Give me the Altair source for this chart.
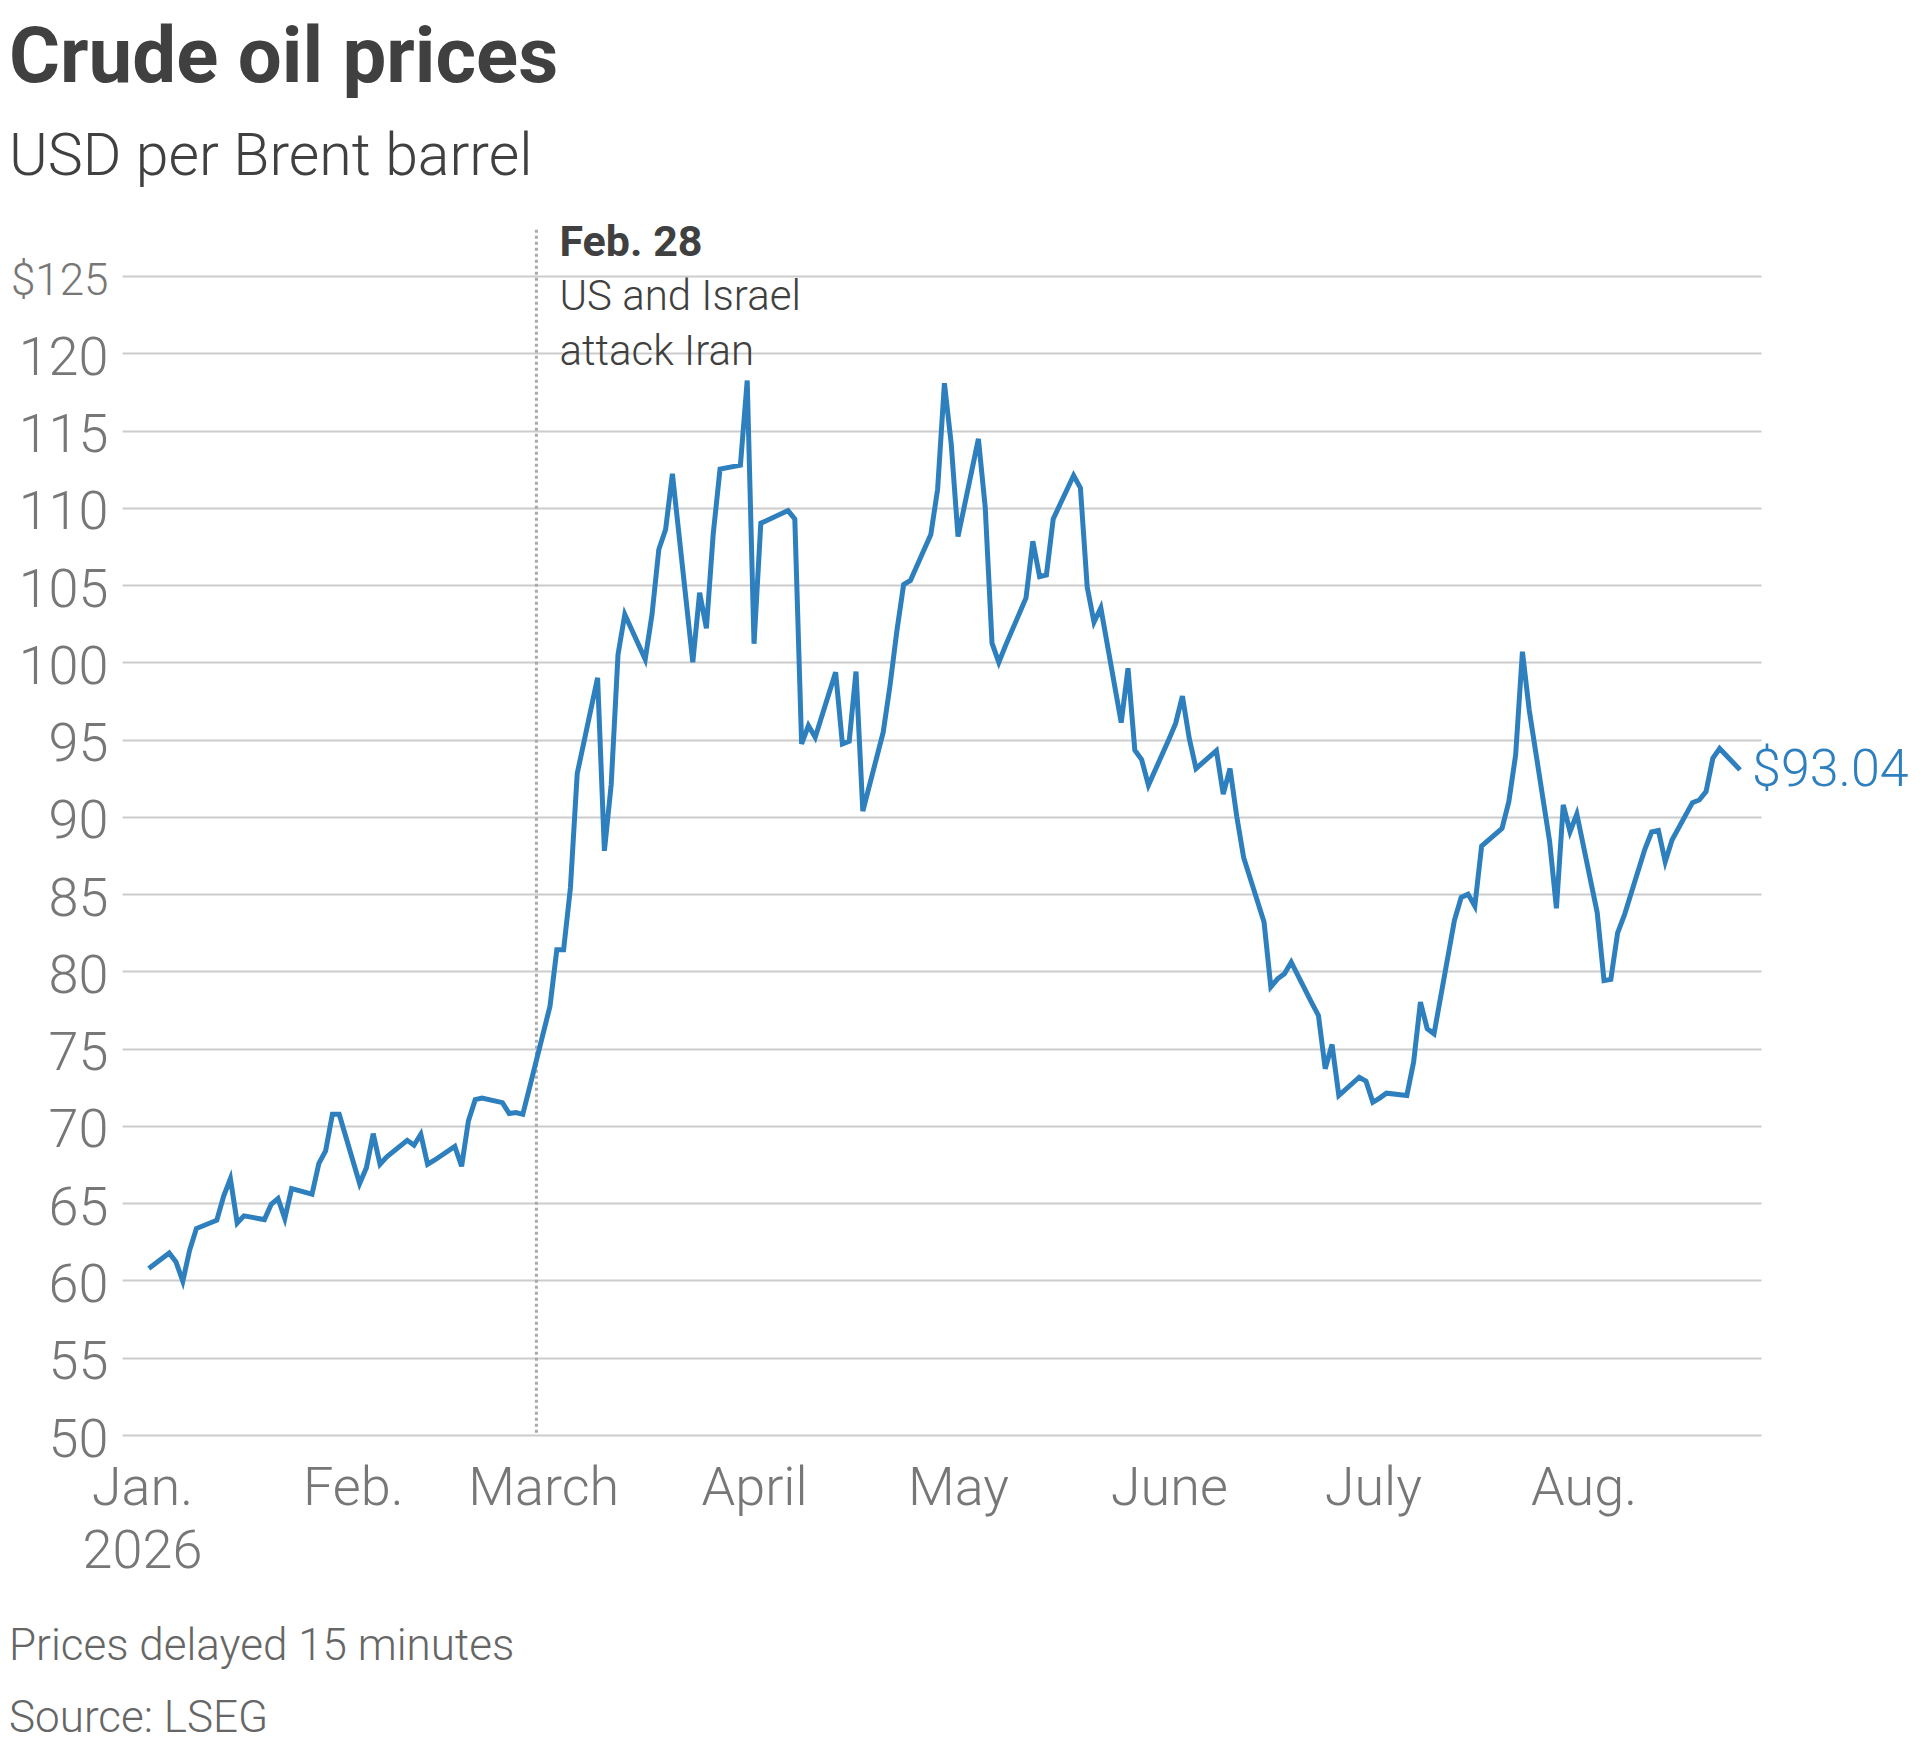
import altair as alt
import pandas as pd

# ---- data (Brent, USD per barrel) ----
dates = [
    "2026-01-02", "2026-01-05", "2026-01-06", "2026-01-07", "2026-01-08", "2026-01-09",
    "2026-01-12", "2026-01-13", "2026-01-14", "2026-01-15", "2026-01-16",
    "2026-01-19", "2026-01-20", "2026-01-21", "2026-01-22", "2026-01-23",
    "2026-01-26", "2026-01-27", "2026-01-28", "2026-01-29", "2026-01-30",
    "2026-02-02", "2026-02-03", "2026-02-04", "2026-02-05", "2026-02-06",
    "2026-02-09", "2026-02-10", "2026-02-11", "2026-02-12", "2026-02-13",
    "2026-02-16", "2026-02-17", "2026-02-18", "2026-02-19", "2026-02-20",
    "2026-02-23", "2026-02-24", "2026-02-25", "2026-02-26", "2026-02-27",
    "2026-03-02", "2026-03-03", "2026-03-04", "2026-03-05", "2026-03-06",
    "2026-03-09", "2026-03-10", "2026-03-11", "2026-03-12", "2026-03-13",
    "2026-03-16", "2026-03-17", "2026-03-18", "2026-03-19", "2026-03-20",
    "2026-03-23", "2026-03-24", "2026-03-25", "2026-03-26", "2026-03-27",
    "2026-03-30", "2026-03-31", "2026-04-01", "2026-04-02",
    "2026-04-06", "2026-04-07", "2026-04-08", "2026-04-09", "2026-04-10",
    "2026-04-13", "2026-04-14", "2026-04-15", "2026-04-16", "2026-04-17",
    "2026-04-20", "2026-04-21", "2026-04-22", "2026-04-23", "2026-04-24",
    "2026-04-27", "2026-04-28", "2026-04-29", "2026-04-30", "2026-05-01",
    "2026-05-04", "2026-05-05", "2026-05-06", "2026-05-07", "2026-05-08",
    "2026-05-11", "2026-05-12", "2026-05-13", "2026-05-14", "2026-05-15",
    "2026-05-18", "2026-05-19", "2026-05-20", "2026-05-21", "2026-05-22",
    "2026-05-25", "2026-05-26", "2026-05-27", "2026-05-28", "2026-05-29",
    "2026-06-01", "2026-06-02", "2026-06-03", "2026-06-04", "2026-06-05",
    "2026-06-08", "2026-06-09", "2026-06-10", "2026-06-11", "2026-06-12",
    "2026-06-15", "2026-06-16", "2026-06-17", "2026-06-18", "2026-06-19",
    "2026-06-22", "2026-06-23", "2026-06-24", "2026-06-25", "2026-06-26",
    "2026-06-29", "2026-06-30", "2026-07-01", "2026-07-02", "2026-07-03",
    "2026-07-06", "2026-07-07", "2026-07-08", "2026-07-09", "2026-07-10",
    "2026-07-13", "2026-07-14", "2026-07-15", "2026-07-16", "2026-07-17",
    "2026-07-20", "2026-07-21", "2026-07-22", "2026-07-23", "2026-07-24",
    "2026-07-27", "2026-07-28", "2026-07-29", "2026-07-30", "2026-07-31",
    "2026-08-03", "2026-08-04", "2026-08-05", "2026-08-06", "2026-08-07",
    "2026-08-10", "2026-08-11", "2026-08-12", "2026-08-13", "2026-08-14",
    "2026-08-17", "2026-08-18", "2026-08-19", "2026-08-20", "2026-08-21",
    "2026-08-24",
]
prices = [
    60.77, 61.78, 61.2, 59.95, 61.95, 63.36,
    63.9, 65.45, 66.59, 63.72, 64.18,
    63.94, 64.93, 65.3, 64.0, 65.94,
    65.58, 67.56, 68.38, 70.75, 70.75,
    66.27, 67.3, 69.5, 67.52, 68.0,
    69.07, 68.75, 69.46, 67.52, 67.78,
    68.68, 67.39, 70.32, 71.7, 71.81,
    71.51, 70.8, 70.86, 70.75, 72.5,
    77.75, 81.4, 81.4, 85.4, 92.8,
    99.0, 87.8, 92.1, 100.5, 103.1,
    100.2, 103.1, 107.3, 108.6, 112.2,
    100.0, 104.5, 102.2, 108.3, 112.5,
    112.76, 118.24, 101.2, 109.0,
    109.82, 109.28, 94.72, 95.91, 95.15,
    99.36, 94.72, 94.9, 99.4, 90.37,
    95.48, 98.5, 102.0, 105.03, 105.3,
    108.27, 111.2, 118.06, 114.14, 108.14,
    114.46, 110.04, 101.24, 100.0, 101.1,
    104.17, 107.84, 105.55, 105.66, 109.28,
    112.09, 111.29, 104.86, 102.6, 103.52,
    96.1, 99.62, 94.32, 93.71, 92.05,
    95.0, 96.05, 97.82, 95.08, 93.13,
    94.28, 91.47, 93.13, 90.0, 87.37,
    83.2, 79.0, 79.52, 79.85, 80.6,
    77.98, 77.15, 73.7, 75.27, 71.97,
    73.15, 72.9, 71.53, 71.8, 72.12,
    71.97, 74.13, 78.01, 76.29, 75.96,
    83.3, 84.79, 85.0, 84.23, 88.11,
    89.26, 90.98, 94.0, 100.69, 96.91,
    88.4, 84.08, 90.77, 89.04, 90.18,
    83.8, 79.4, 79.48, 82.5, 83.65,
    87.9, 89.02, 89.12, 87.1, 88.5,
    90.92, 91.09, 91.63, 93.79, 94.43,
    93.04,
]

y_ticks = [50, 55, 60, 65, 70, 75, 80, 85, 90, 95, 100, 105, 110, 115, 120, 125]
month_labels = ["Jan.", "Feb.", "March", "April", "May", "June", "July", "Aug.",
                "Sept.", "Oct.", "Nov.", "Dec."]

event_date = "2026-02-28"
event_title = "Feb. 28"
event_text = ["US and Israel", "attack Iran"]

title_text = "Crude oil prices"
subtitle_text = "USD per Brent barrel"
footer_text = ["Prices delayed 15 minutes", "Source: LSEG"]

LINE = "#2e7fbe"
DARK = "#404040"
GREY = "#777777"
FONT = "Roboto"

df = pd.DataFrame({"date": dates, "price": prices})

month_js = "[" + ",".join("'" + m + "'" for m in month_labels) + "]"

x_scale = alt.Scale(
    type="utc",
    domain=[
        alt.DateTime(year=2025, month=12, date=29, hours=1, minutes=25, utc=True),
        alt.DateTime(year=2026, month=8, date=27, hours=2, utc=True),
    ],
)
x_axis = alt.Axis(
    values=[alt.DateTime(year=2026, month=m, date=1, utc=True) for m in range(1, 9)],
    labelExpr="utcmonth(datum.value) == 0 ? ['Jan.', '2026'] : " + month_js + "[utcmonth(datum.value)]",
    grid=False,
    domain=False,
    ticks=False,
    tickSize=0,
    labelPadding=26,
    labelFont=FONT,
    labelFontSize=54,
    labelFontWeight=300,
    labelColor=GREY,
    labelLineHeight=63,
    labelAlign="center",
    labelBaseline="top",
    labelFlush=False,
    labelOverlap=False,
    title=None,
)
y_scale = alt.Scale(domain=[50, 125], nice=False, zero=False)
y_axis = alt.Axis(
    values=y_ticks,
    labelExpr="datum.value == 125 ? '$125' : datum.label",
    grid=True,
    gridColor="#cccccc",
    gridWidth=2,
    domain=False,
    ticks=False,
    tickSize=0,
    labelPadding=14,
    labelFont=FONT,
    labelFontSize={"condition": {"test": "datum.value == 125", "value": 44}, "value": 54},
    labelFontWeight=300,
    labelColor=GREY,
    labelOffset=5,
    title=None,
)

X = alt.X("date:T", scale=x_scale, axis=x_axis)
Y = alt.Y("price:Q", scale=y_scale, axis=y_axis)

line = alt.Chart(df).mark_line(color=LINE, strokeWidth=5).encode(x=X, y=Y)

rule_df = pd.DataFrame({"date": [event_date], "price": [128.0], "price2": [50.0]})
rule = alt.Chart(rule_df).mark_rule(
    color="#aaaaaa", strokeWidth=3, strokeDash=[3, 3]
).encode(x=X, y=Y, y2=alt.Y2("price2"))

ev_title_df = pd.DataFrame({"date": [event_date], "price": [126.31], "label": [event_title]})
ev_title = alt.Chart(ev_title_df).mark_text(
    align="left", baseline="alphabetic", dx=23, font=FONT, fontSize=43,
    fontWeight="bold", color=DARK
).encode(x=X, y=Y, text="label:N")

ev_text_df = pd.DataFrame({"date": [event_date], "price": [122.8]})
ev_text = alt.Chart(ev_text_df).mark_text(
    text=event_text, align="left", baseline="alphabetic", dx=23, font=FONT,
    fontSize=42, fontWeight=300, lineHeight=55, color=DARK
).encode(x=X, y=Y)

last_df = pd.DataFrame({"date": [dates[-1]], "price": [prices[-1]],
                        "label": ["$" + format(prices[-1], ".2f")]})
last_label = alt.Chart(last_df).mark_text(
    align="left", baseline="middle", dx=12, font=FONT, fontSize=52,
    fontWeight=300, color=LINE
).encode(x=X, y=Y, text="label:N")

head_df = pd.DataFrame({"label": [title_text]})
title = alt.Chart(head_df).mark_text(
    align="left", baseline="alphabetic", font=FONT, fontSize=78,
    fontWeight="bold", color=DARK
).encode(x=alt.value(-113), y=alt.value(-194), text="label:N")

sub_df = pd.DataFrame({"label": [subtitle_text]})
subtitle = alt.Chart(sub_df).mark_text(
    align="left", baseline="alphabetic", font=FONT, fontSize=59,
    fontWeight=300, color=DARK
).encode(x=alt.value(-113), y=alt.value(-101), text="label:N")

foot_df = pd.DataFrame({"k": [0]})
footer = alt.Chart(foot_df).mark_text(
    text=footer_text, align="left", baseline="alphabetic", font=FONT,
    fontSize=44, fontWeight=300, lineHeight=72, color="#666666"
).encode(x=alt.value(-113), y=alt.value(1384))

chart = alt.layer(
    rule, line, ev_title, ev_text, last_label, title, subtitle, footer
).properties(
    width=1639,
    height=1159,
    padding={"left": 114, "top": 268, "right": 151, "bottom": 304},
    autosize=alt.AutoSizeParams(type="none"),
    background="white",
).configure_view(strokeWidth=0)

chart.save("out.html", embed_options={"renderer": "svg", "actions": False})
